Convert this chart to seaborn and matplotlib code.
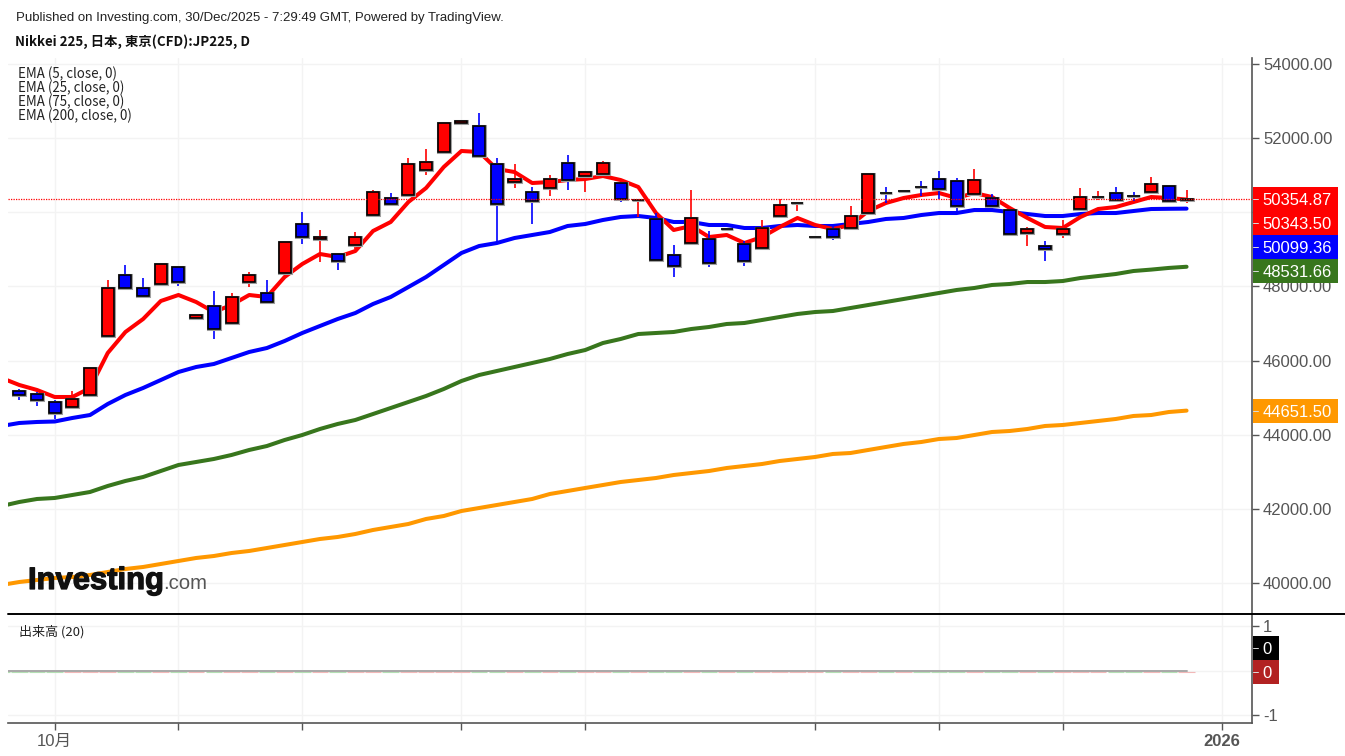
# Nikkei 225 daily candles with EMAs, TradingView style
import matplotlib
matplotlib.use("Agg")
import matplotlib.pyplot as plt
import matplotlib.patheffects as pe
from matplotlib.lines import Line2D
from matplotlib.patches import Rectangle
from matplotlib.transforms import ScaledTranslation
import numpy as np
import pandas as pd
import seaborn as sns

opens = [45181, 45100, 44884, 44749, 45073, 46664, 48309, 47958, 48066, 48525, 47150, 47473, 47015, 48120,
         47824, 48363, 49685, 49280, 48876, 49118, 49927, 50386, 50467, 51141, 51627, 52405, 52328, 51303,
         50817, 50548, 50656, 51330, 50979, 51033, 50790, 50320, 49820, 48849, 49172, 49280, 49540, 49145,
         49037, 49900, 50240, 49332, 49550, 49577, 49981, 50530, 50573, 50693, 50898, 50844, 50494, 50386,
         50062, 49442, 49091, 49415, 50089, 50405, 50521, 50450, 50548, 50710, 50320]
highs = [45235, 45154, 44938, 45181, 45801, 48174, 48579, 48228, 48606, 48525, 47244, 47878, 47824, 48390,
         48174, 49226, 50008, 49523, 48876, 49469, 50602, 50521, 51465, 51708, 52436, 52463, 52678, 51465,
         51303, 50683, 51006, 51546, 51087, 51384, 50790, 50359, 49981, 49118, 50602, 49496, 49565, 49226,
         49793, 50359, 50278, 49336, 49604, 50170, 51060, 50683, 50577, 50844, 51114, 50925, 51168, 50494,
         50089, 49604, 49226, 49793, 50656, 50575, 50683, 50548, 50952, 50737, 50602]
lows = [44938, 44776, 44426, 44695, 45073, 46664, 47958, 47743, 48066, 48012, 47137, 46583, 46961, 47985,
        47527, 48309, 49145, 48660, 48444, 49010, 49874, 50170, 50413, 51006, 51627, 52405, 51519, 49199,
        50656, 49685, 50440, 50602, 50548, 51006, 50278, 49874, 48687, 48255, 49172, 48525, 49535, 48552,
        48983, 49900, 50035, 49332, 49253, 49577, 49981, 50251, 50573, 50440, 50359, 50008, 50494, 50008,
        49415, 49091, 48687, 49307, 50035, 50332, 50332, 50305, 50548, 50305, 50251]
closes = [45073, 44938, 44587, 44965, 45801, 47958, 47958, 47743, 48606, 48120, 47231, 46853, 47716, 48309,
          47581, 49199, 49334, 49334, 48687, 49334, 50548, 50224, 51303, 51357, 52409, 52455, 51519, 50224,
          50898, 50305, 50898, 50871, 51087, 51330, 50359, 50340, 48714, 48552, 49847, 48633, 49560, 48687,
          49577, 50197, 50260, 49336, 49334, 49900, 51033, 50510, 50577, 50673, 50629, 50170, 50871, 50170,
          49415, 49550, 49010, 49550, 50413, 50425, 50332, 50430, 50764, 50305, 50354.87]

# the EMA lines start one bar before the first candle, off the left edge
ema5 = [45531, 45343, 45208, 45019, 45019, 45262, 46206, 46772, 47122, 47608, 47770, 47581, 47311, 47500,
        47770, 47716, 48255, 48606, 48876, 48795, 48956, 49496, 49739, 50278, 50656, 51222, 51654, 51627,
        51168, 51087, 50790, 50817, 50871, 50898, 50979, 50871, 50683, 49981, 49523, 49631, 49334, 49388,
        49172, 49334, 49604, 49847, 49658, 49550, 49658, 50035, 50251, 50386, 50467, 50521, 50386, 50521,
        50413, 50116, 49847, 49604, 49577, 49874, 50089, 50143, 50278, 50413, 50386, 50343.50]
ema25 = [44237, 44318, 44345, 44358, 44453, 44533, 44830, 45073, 45262, 45477, 45693, 45828, 45909, 46071,
         46233, 46340, 46529, 46745, 46934, 47122, 47284, 47527, 47716, 47985, 48255, 48579, 48903, 49091,
         49172, 49307, 49388, 49469, 49631, 49685, 49793, 49874, 49900, 49847, 49739, 49739, 49658, 49658,
         49577, 49577, 49631, 49658, 49631, 49631, 49685, 49739, 49820, 49847, 49927, 49981, 49981, 50062,
         50062, 50008, 49954, 49900, 49900, 49954, 49981, 49981, 50035, 50089, 50095, 50099.36]
ema75 = [42079, 42187, 42268, 42295, 42376, 42457, 42619, 42754, 42861, 43023, 43185, 43266, 43347, 43455,
         43590, 43697, 43859, 43994, 44156, 44291, 44399, 44560, 44722, 44884, 45046, 45235, 45450, 45612,
         45720, 45828, 45936, 46044, 46178, 46286, 46475, 46583, 46718, 46745, 46772, 46853, 46907, 46988,
         47015, 47096, 47177, 47258, 47311, 47338, 47419, 47500, 47581, 47662, 47743, 47824, 47905, 47959,
         48040, 48067, 48120, 48120, 48147, 48228, 48282, 48336, 48417, 48455, 48500, 48531.66]
ema200 = [39949, 40029, 40083, 40137, 40164, 40218, 40299, 40380, 40434, 40515, 40596, 40677, 40730, 40811,
          40866, 40946, 41027, 41108, 41189, 41243, 41324, 41432, 41513, 41594, 41729, 41809, 41944, 42025,
          42106, 42187, 42268, 42403, 42484, 42565, 42645, 42726, 42780, 42834, 42915, 42969, 43023, 43104,
          43158, 43212, 43293, 43347, 43401, 43482, 43508, 43590, 43671, 43752, 43805, 43886, 43913, 43994,
          44075, 44102, 44156, 44237, 44264, 44318, 44372, 44426, 44507, 44533, 44614, 44651.50]
volume = [0] * 68

price_ticks = [40000, 42000, 44000, 46000, 48000, 50000, 52000, 54000]
price_labels = ["40000.00", "42000.00", "44000.00", "46000.00", "48000.00", "", "52000.00", "54000.00"]
date_ticks = [2, 9, 16, 25, 32, 45, 52, 59, 68]
date_labels = ["10月", "", "", "", "", "", "", "", "2026"]
ema_names = ["EMA (5, close, 0)", "EMA (25, close, 0)", "EMA (75, close, 0)", "EMA (200, close, 0)"]
value_labels = ["50354.87", "50343.50", "50099.36", "48531.66", "44651.50"]
label_colors = ["#ff0000", "#ff0000", "#0000ff", "#38761d", "#ff9800"]

W, H = 1345, 756


def fx(x):
    return x / W


def fy(y):
    return 1 - y / H


sns.set_style("white")
plt.rcParams["font.family"] = ["Liberation Sans", "Noto Sans CJK JP", "DejaVu Sans"]
grey = "#555555"
grid = "#f3f3f3"
cjk = ["Noto Sans CJK JP", "DejaVu Sans"]

fig = plt.figure(figsize=(W / 100, H / 100), dpi=100)
ax = fig.add_axes([fx(8), fy(614), fx(1244), fy(58) - fy(614)])
vol = fig.add_axes([fx(8), fy(723), fx(1244), fy(614) - fy(723)])

# EMA lines
bars = np.arange(len(opens))
ema_x = np.arange(-1, len(opens))
lines = pd.concat([
    pd.DataFrame({"x": ema_x, "y": ema200, "ema": "200"}),
    pd.DataFrame({"x": ema_x, "y": ema75, "ema": "75"}),
    pd.DataFrame({"x": ema_x, "y": ema25, "ema": "25"}),
    pd.DataFrame({"x": ema_x, "y": ema5, "ema": "5"}),
])
sns.lineplot(data=lines, x="x", y="y", hue="ema", ax=ax, legend=False, linewidth=2.9, sort=False, errorbar=None,
             palette={"200": "#ff9800", "75": "#38761d", "25": "#0000ff", "5": "#ff0000"}, zorder=2)

# candles, the grey bar underneath gives the soft halo round each body
colors = ["#ff0000" if c >= o else "#0000ff" for o, c in zip(opens, closes)]
ax.vlines(bars, lows, highs, colors=colors, linewidth=1.2, zorder=3)
bottoms = np.minimum(opens, closes)
heights = np.abs(np.array(closes) - np.array(opens))
ax.bar(bars, heights, bottom=bottoms, width=0.68, color=colors, edgecolor="#a0a0a0", linewidth=2.2, zorder=3.5)
ax.bar(bars, heights, bottom=bottoms, width=0.68, color=colors, edgecolor="black", linewidth=1.2, zorder=4)

ax.axhline(closes[-1], color="#ff0000", linewidth=0.9, linestyle=(0, (1, 1)), zorder=5)

ax.set_xlim(-0.639, 69.70)
ax.set_ylim(39166, 54162)
ax.set_yticks(price_ticks)
ax.set_yticklabels(price_labels)
ax.set_xticks(date_ticks)
ax.set_xlabel("")
ax.set_ylabel("")
ax.tick_params(axis="x", length=0, labelbottom=False)

# volume pane
vol_colors = ["#b4dfb4"] + ["#f2b8b8" if c >= o else "#b4dfb4" for o, c in zip(opens, closes)]
drop = ScaledTranslation(0, -1.2 / 100, fig.dpi_scale_trans)
vol.bar(ema_x, volume, width=0.94, color=vol_colors, edgecolor=vol_colors, linewidth=0.8,
        transform=vol.transData + drop, zorder=2)
sns.lineplot(x=ema_x, y=volume, ax=vol, color="#a8a8a8", linewidth=1.4, errorbar=None, zorder=3)
vol.set_xlim(-0.639, 69.70)
vol.set_ylim(-1.18, 1.27)
vol.set_yticks([-1, 0, 1])
vol.set_yticklabels(["-1", "", "1"])
vol.set_xticks(date_ticks)
vol.set_xticklabels(date_labels)
vol.set_xlabel("")
vol.set_ylabel("")
vol.get_xticklabels()[-1].set_fontweight("bold")

for a in (ax, vol):
    a.set_axisbelow(True)
    a.grid(True, color=grid, linewidth=1)
    a.yaxis.tick_right()
    a.tick_params(axis="y", length=5, width=1, color=grey, labelcolor=grey, labelsize=12, pad=3, right=True, left=False)
    for side in ("top", "left", "bottom"):
        a.spines[side].set_visible(False)
    a.spines["right"].set_color(grey)
    a.spines["right"].set_linewidth(1.2)
vol.spines["bottom"].set_visible(True)
vol.spines["bottom"].set_color(grey)
vol.spines["bottom"].set_linewidth(1.2)
vol.tick_params(axis="x", length=5, width=1, color=grey, labelcolor=grey, labelsize=12, pad=3, bottom=True)

# pane divider runs to the right edge of the picture
fig.add_artist(Line2D([fx(8), 1], [fy(614), fy(614)], color="black", linewidth=1.4, zorder=6))

# value boxes on the price axis
label_y = [199, 223, 247, 271, 411]
for text, color, y in zip(value_labels, label_colors, label_y):
    fig.add_artist(Rectangle((fx(1253), fy(y + 12)), fx(85), fy(y - 12) - fy(y + 12), color=color, linewidth=0, zorder=7))
    fig.add_artist(Line2D([fx(1253), fx(1258)], [fy(y), fy(y)], color="#dddddd", linewidth=0.7, zorder=8))
    fig.text(fx(1297), fy(y), text, color="white", fontsize=12, ha="center", va="center_baseline", zorder=9)
for text, color, y in zip(["0", "0"], ["black", "#b22222"], [648, 672]):
    fig.add_artist(Rectangle((fx(1253), fy(y + 12)), fx(26), fy(y - 12) - fy(y + 12), color=color, linewidth=0, zorder=7))
    fig.add_artist(Line2D([fx(1253), fx(1258)], [fy(y), fy(y)], color="#dddddd", linewidth=0.7, zorder=8))
    fig.text(fx(1267), fy(y), text, color="white", fontsize=12, ha="center", va="center_baseline", zorder=9)

# header and legends
fig.text(fx(16), fy(17), "Published on Investing.com, 30/Dec/2025 - 7:29:49 GMT, Powered by TradingView.",
         fontsize=9.55, color="#222222", va="center_baseline")
fig.text(fx(15), fy(40), "Nikkei 225, 日本, 東京(CFD):JP225, D", fontsize=9.6, fontweight="bold", color="#111111",
         family=cjk, va="center_baseline")
for name, y in zip(ema_names, [72, 86, 100, 114]):
    fig.text(fx(18), fy(y), name, fontsize=9.55, color="#222222", family=cjk, va="center_baseline")
fig.text(fx(19), fy(630), "出来高 (20)", fontsize=9.4, color="#222222", family=cjk, va="center_baseline")

# watermark
thick = [pe.withStroke(linewidth=0.9, foreground="#111111")]
fig.text(fx(28), fy(589), "Investing", fontsize=22.3, fontweight="bold", color="#111111", va="baseline", zorder=6,
         path_effects=thick)
fig.text(fx(163), fy(589), ".com", fontsize=14.6, color="#555555", va="baseline", zorder=6)

fig.savefig("out.png", dpi=100)
